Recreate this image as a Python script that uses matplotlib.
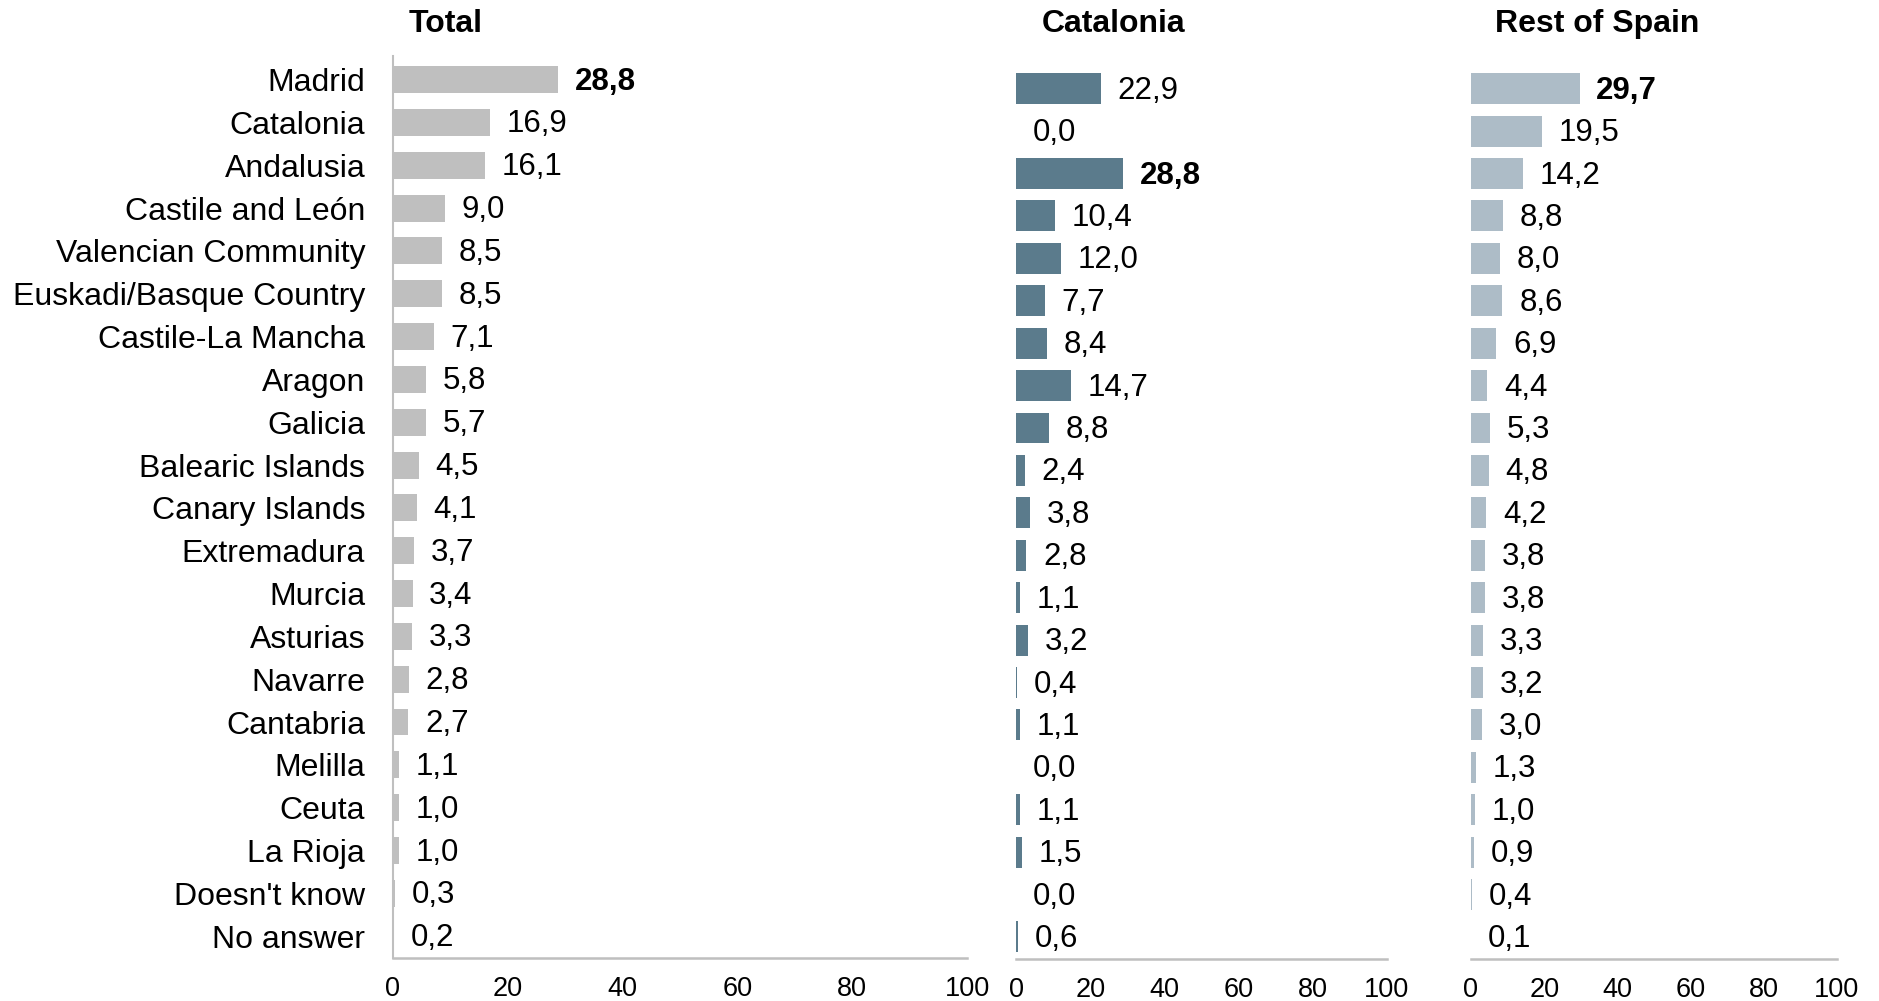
import matplotlib
matplotlib.use("Agg")
import matplotlib.pyplot as plt
import numpy as np

plt.rcParams['font.family'] = ['Liberation Sans', 'DejaVu Sans']

regions = ["Madrid", "Catalonia", "Andalusia", "Castile and León",
           "Valencian Community", "Euskadi/Basque Country", "Castile-La Mancha",
           "Aragon", "Galicia", "Balearic Islands", "Canary Islands",
           "Extremadura", "Murcia", "Asturias", "Navarre", "Cantabria",
           "Melilla", "Ceuta", "La Rioja", "Doesn't know", "No answer"]
total = [28.8, 16.9, 16.1, 9.0, 8.5, 8.5, 7.1, 5.8, 5.7, 4.5, 4.1,
         3.7, 3.4, 3.3, 2.8, 2.7, 1.1, 1.0, 1.0, 0.3, 0.2]
catalonia = [22.9, 0.0, 28.8, 10.4, 12.0, 7.7, 8.4, 14.7, 8.8, 2.4, 3.8,
             2.8, 1.1, 3.2, 0.4, 1.1, 0.0, 1.1, 1.5, 0.0, 0.6]
rest_of_spain = [29.7, 19.5, 14.2, 8.8, 8.0, 8.6, 6.9, 4.4, 5.3, 4.8, 4.2,
                 3.8, 3.8, 3.3, 3.2, 3.0, 1.3, 1.0, 0.9, 0.4, 0.1]
panel_titles = ["Total", "Catalonia", "Rest of Spain"]
xticks = [0, 20, 40, 60, 80, 100]

W, H = 1879, 1001
fig = plt.figure(figsize=(W / 100, H / 100), dpi=100)


def fbox(x0, x1, ytop, ybot):
    return [x0 / W, 1 - ybot / H, (x1 - x0) / W, (ybot - ytop) / H]


panels = [
    (total, "#BFBFBF", fbox(393, 967, 56, 958), (20.51, -0.55), 0.63, True, 446),
    (catalonia, "#5B7B8C", fbox(1016, 1387, 67.5, 959), (20.52, -0.5), 0.73, False, 1114),
    (rest_of_spain, "#ADBCC7", fbox(1471, 1837, 67.5, 959), (20.52, -0.5), 0.73, False, 1597),
]

y = np.arange(len(regions))
for (vals, color, box, ylim, bh, show_labels, title_x), title in zip(panels, panel_titles):
    ax = fig.add_axes(box)
    ax.barh(y, vals, height=bh, color=color, linewidth=0)
    ax.set_xlim(0, 100)
    ax.set_ylim(*ylim)
    vmax = max(vals)
    for yi, v in zip(y, vals):
        ax.annotate(f"{v:.1f}".replace(".", ","), (v, yi), xytext=(12, -1.5),
                    textcoords="offset points", va="center", ha="left",
                    fontsize=22.5, fontweight="bold" if v == vmax else "normal",
                    color="black")
    ax.set_xticks(xticks)
    ax.set_xticklabels([str(t) for t in xticks], fontsize=19.5)
    ax.tick_params(axis="x", length=0, pad=13)
    for s in ["top", "right"]:
        ax.spines[s].set_visible(False)
    ax.spines["bottom"].set_color("#BFBFBF")
    ax.spines["bottom"].set_linewidth(1.8)
    if show_labels:
        ax.set_yticks(y)
        ax.set_yticklabels(regions, fontsize=23)
        ax.tick_params(axis="y", length=0, pad=20)
        ax.spines["left"].set_color("#BFBFBF")
        ax.spines["left"].set_linewidth(1.5)
    else:
        ax.set_yticks([])
        ax.spines["left"].set_visible(False)
    fig.text(title_x / W, 1 - 24 / H, title, ha="center", va="center",
             fontsize=23, fontweight="bold")

fig.savefig("out.png", dpi=100)
